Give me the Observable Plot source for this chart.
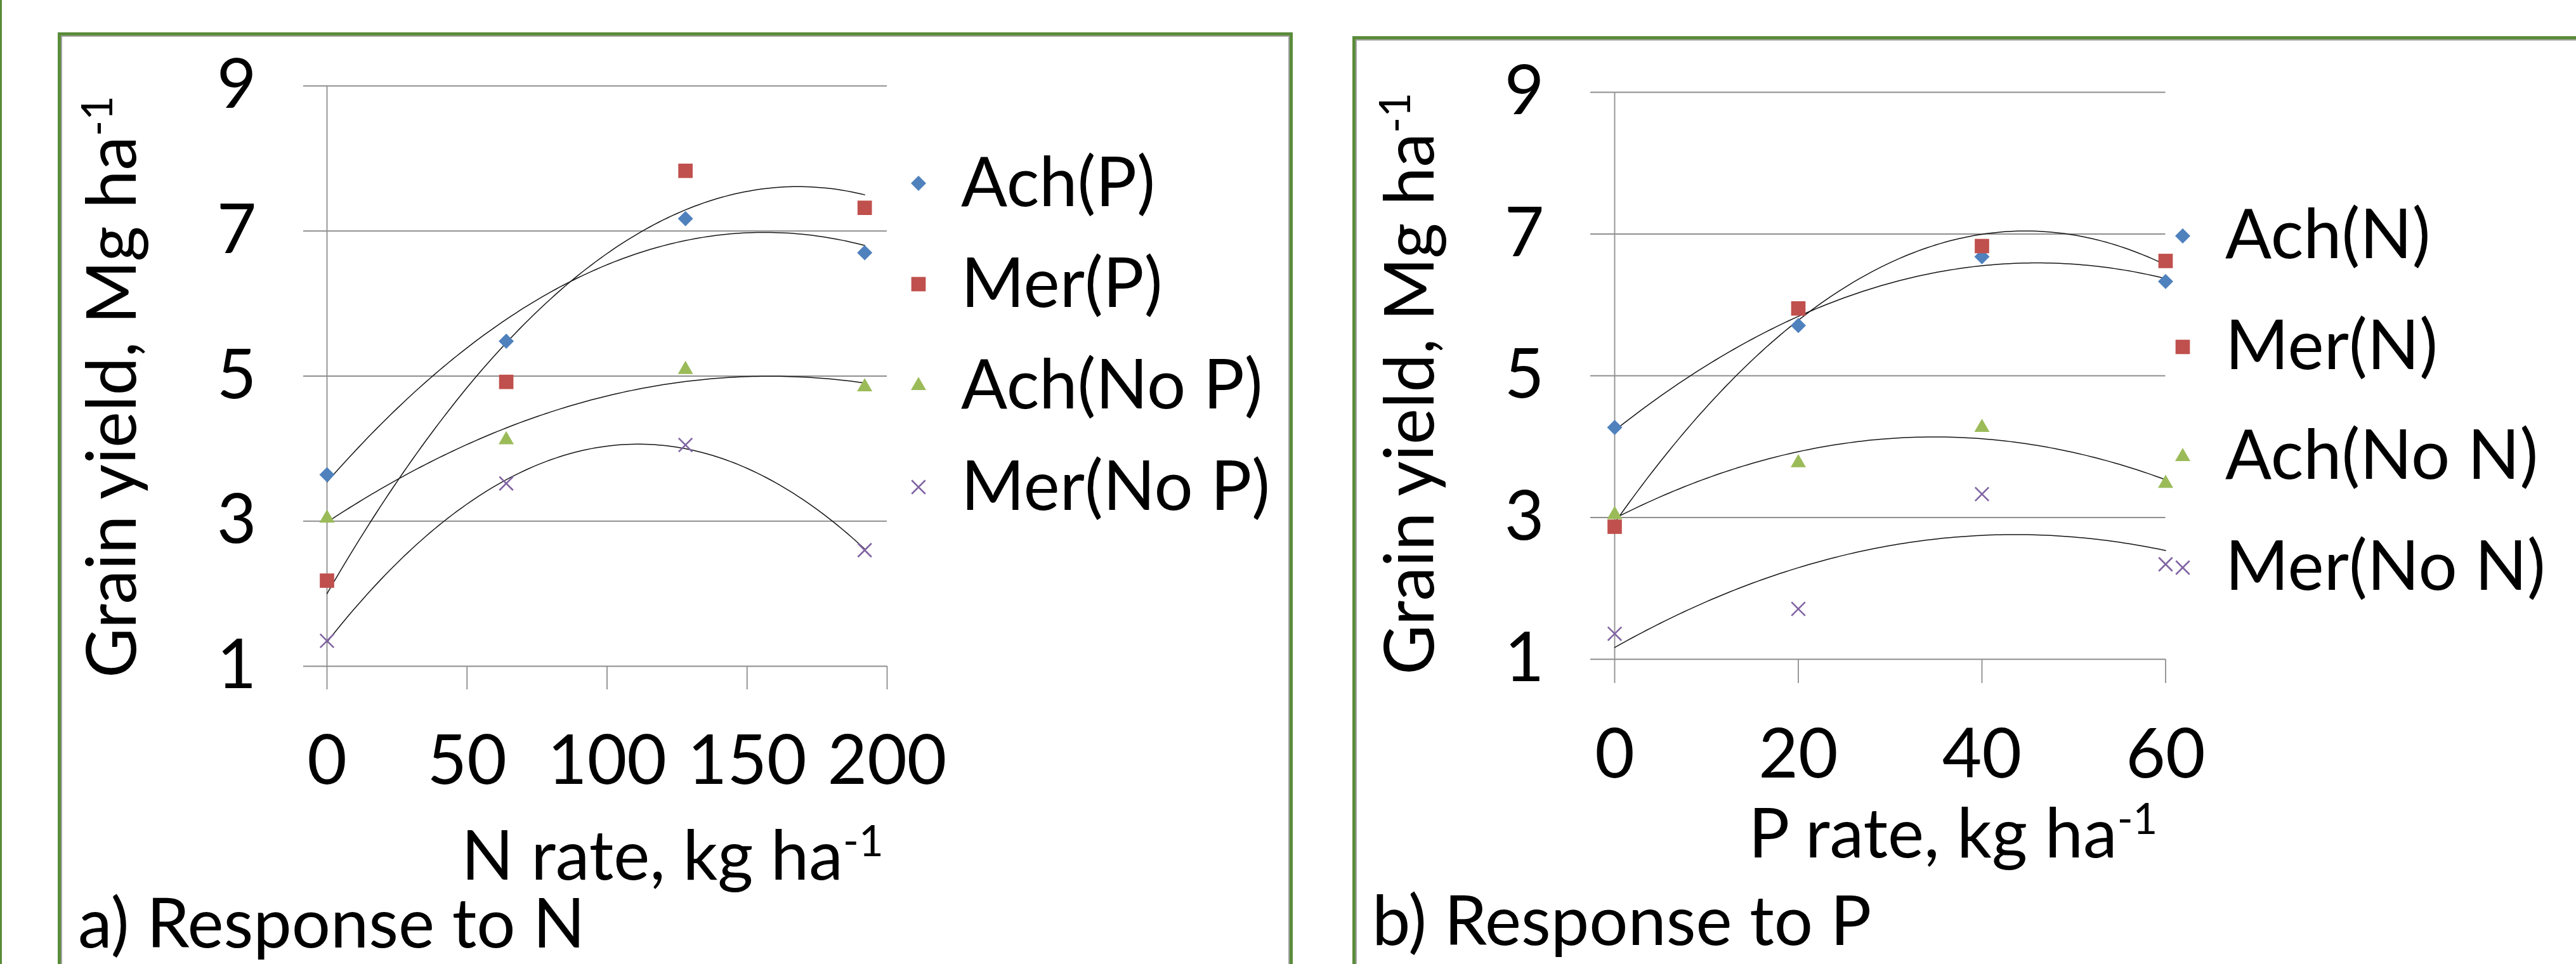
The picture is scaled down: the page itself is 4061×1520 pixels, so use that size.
<!DOCTYPE html>
<html>
<head>
<meta charset="utf-8">
<script src="https://cdn.jsdelivr.net/npm/d3@7"></script>
<script src="https://cdn.jsdelivr.net/npm/@observablehq/plot@0.6"></script>
<style>
html, body { margin:0; padding:0; background:#fff; }
#page { position:relative; width:4061px; height:1520px; overflow:hidden; background:#fff; }
.frame { position:absolute; box-sizing:border-box; border:5px solid #5B8C3A; box-shadow: inset 0 0 0 2px #a5a5a5; }
.chart { position:absolute; }
.chart svg { display:block; max-width:none; }
#edge { position:absolute; left:0; top:0; width:3px; height:1520px; background:#5B8C3A; }
#overlay { position:absolute; left:0; top:0; }
</style>
</head>
<body>
<div id="page">
  <div id="edge"></div>
  <div class="frame" style="left:91px;top:51px;width:1947px;height:1600px"></div>
  <div class="frame" style="left:2132px;top:57px;width:2100px;height:1600px"></div>
  <div class="chart" id="chartN" style="left:250px;top:40px"></div>
  <div class="chart" id="chartP" style="left:2280px;top:40px"></div>
</div>
<script>
// ---------- data ----------
const nRates = [0, 64, 128, 192];
const achP   = [3.64, 5.48, 7.17, 6.70];
const merP   = [2.18, 4.92, 7.83, 7.32];
const achNoP = [3.04, 4.12, 5.09, 4.85];
const merNoP = [1.35, 3.52, 4.05, 2.60];

const pRates = [0, 20, 40, 60];
const achN   = [4.27, 5.71, 6.68, 6.33];
const merN   = [2.87, 5.95, 6.83, 6.62];
const achNoN = [3.04, 3.77, 4.27, 3.48];
const merNoN = [1.36, 1.71, 3.33, 2.34];

const seriesN = ["Ach(P)", "Mer(P)", "Ach(No P)", "Mer(No P)"];
const seriesP = ["Ach(N)", "Mer(N)", "Ach(No N)", "Mer(No N)"];
const colors  = ["#4F81BD", "#C0504D", "#9BBB59", "#8064A2"];
const symbols = ["diamond2", "square", "triangle", "times"];
const radii   = [10.8, 12.8, 8.9, 9.8];

const yTicks = [1, 3, 5, 7, 9];
const nTicks = [0, 50, 100, 150, 200];
const pTicks = [0, 20, 40, 60];

const yLabel = "Grain yield, Mg ha";
const nLabel = "N rate, kg ha";
const pLabel = "P rate, kg ha";
const unitSup = "-1";
const captionN = "a) Response to N";
const captionP = "b) Response to P";

// ---------- helpers ----------
const FONT = "Lato, 'Open Sans', sans-serif";
const FS = 108;
const GRID = "#8E8E8E";

// least-squares second-order polynomial trendline (as in the original chart)
function quadFit(xs, ys) {
  const S = [[0,0,0],[0,0,0],[0,0,0]], T = [0,0,0];
  xs.forEach((x, i) => {
    const p = [1, x, x * x];
    for (let r = 0; r < 3; r++) {
      T[r] += p[r] * ys[i];
      for (let c = 0; c < 3; c++) S[r][c] += p[r] * p[c];
    }
  });
  const M = S.map((row, r) => [...row, T[r]]);
  for (let i = 0; i < 3; i++) {
    let piv = i;
    for (let k = i + 1; k < 3; k++) if (Math.abs(M[k][i]) > Math.abs(M[piv][i])) piv = k;
    [M[i], M[piv]] = [M[piv], M[i]];
    for (let k = i + 1; k < 3; k++) {
      const f = M[k][i] / M[i][i];
      for (let j = i; j < 4; j++) M[k][j] -= f * M[i][j];
    }
  }
  const sol = [0,0,0];
  for (let i = 2; i >= 0; i--) {
    let s = M[i][3];
    for (let j = i + 1; j < 3; j++) s -= M[i][j] * sol[j];
    sol[i] = s / M[i][i];
  }
  return x => sol[0] + sol[1] * x + sol[2] * x * x;
}

function makePanel({rates, values, names, xTicks, xDomain, width, height, mL, mR, mT, mB, tick, padY, padX}) {
  const x0 = d3.min(rates), x1 = d3.max(rates);
  const steps = d3.range(0, 121).map(i => x0 + (x1 - x0) * i / 120);
  const trend = names.flatMap((s, k) => {
    const f = quadFit(rates, values[k]);
    return steps.map(x => ({s, x, y: f(x)}));
  });
  const dotMarks = names.map((s, k) => {
    const data = rates.map((x, i) => ({s, x, y: values[k][i]}));
    const stroked = symbols[k] === "times";
    return Plot.dot(data, {
      x: "x", y: "y", symbol: symbols[k], r: radii[k],
      fill: stroked ? "none" : colors[k],
      stroke: stroked ? colors[k] : "none",
      strokeWidth: stroked ? 2.6 : 0
    });
  });
  const fmt = d => String(d);
  return Plot.plot({
    width, height,
    marginLeft: mL, marginRight: mR, marginTop: mT, marginBottom: mB,
    x: {domain: xDomain},
    y: {domain: [1, 9]},
    style: {fontFamily: FONT, fontSize: FS + "px", color: "#000", background: "transparent", overflow: "visible", maxWidth: "none"},
    marks: [
      Plot.gridY(yTicks, {stroke: GRID, strokeOpacity: 1, strokeWidth: 1.8}),
      Plot.ruleX([0], {stroke: GRID, strokeWidth: 1.8}),
      Plot.axisY(yTicks, {tickSize: tick, tickPadding: padY, tickFormat: fmt, stroke: GRID, strokeWidth: 1.8, fill: "#000", label: null}),
      Plot.axisX(xTicks, {tickSize: tick, tickPadding: padX, tickFormat: fmt, stroke: GRID, strokeWidth: 1.8, fill: "#000", label: null}),
      Plot.line(trend, {x: "x", y: "y", z: "s", stroke: "#151515", strokeWidth: 1.5}),
      ...dotMarks
    ]
  });
}

// ---------- charts ----------
document.getElementById("chartN").appendChild(makePanel({
  rates: nRates, values: [achP, merP, achNoP, merNoP], names: seriesN,
  xTicks: nTicks, xDomain: [0, 200],
  width: 1300, height: 1150, mL: 265, mR: 152, mT: 95, mB: 140,
  tick: 37, padY: 74, padX: 72
}));
document.getElementById("chartP").appendChild(makePanel({
  rates: pRates, values: [achN, merN, achNoN, merNoN], names: seriesP,
  xTicks: pTicks, xDomain: [0, 60],
  width: 1300, height: 1150, mL: 265, mR: 166.5, mT: 105, mB: 151,
  tick: 38, padY: 73, padX: 72
}));

// ---------- titles, captions, legends ----------
const ov = d3.select("#page").append("svg")
  .attr("id", "overlay").attr("width", 4061).attr("height", 1520)
  .style("font-family", FONT).style("font-size", FS + "px").attr("fill", "#000");

function titleText(g, main) {
  g.append("tspan").text(main);
  g.append("tspan").attr("font-size", "0.62em").attr("dy", "-0.55em").text(unitSup);
}

// panel a
titleText(ov.append("text").attr("transform", "translate(214,610) rotate(-90)").attr("text-anchor", "middle"), yLabel);
titleText(ov.append("text").attr("x", 1060).attr("y", 1387).attr("text-anchor", "middle"), nLabel);
ov.append("text").attr("x", 123).attr("y", 1494).text(captionN);

// panel b
titleText(ov.append("text").attr("transform", "translate(2260,605) rotate(-90)").attr("text-anchor", "middle"), yLabel);
titleText(ov.append("text").attr("x", 3079).attr("y", 1352).attr("text-anchor", "middle"), pLabel);
ov.append("text").attr("x", 2163).attr("y", 1490).text(captionP);

const symMap = {diamond2: d3.symbolDiamond2, square: d3.symbolSquare, triangle: d3.symbolTriangle, times: d3.symbolTimes};
function legend(names, mx, tx, rows, off) {
  names.forEach((s, k) => {
    const stroked = symbols[k] === "times";
    ov.append("path")
      .attr("transform", `translate(${mx},${rows[k]})`)
      .attr("d", d3.symbol(symMap[symbols[k]], Math.PI * radii[k] * radii[k])())
      .attr("fill", stroked ? "none" : colors[k])
      .attr("stroke", stroked ? colors[k] : "none")
      .attr("stroke-width", stroked ? 2.6 : 0);
    ov.append("text").attr("x", tx).attr("y", rows[k] + off).text(s);
  });
}
legend(seriesN, 1448, 1515, [289, 448, 608, 768], 36);
legend(seriesP, 3441, 3508, [372, 547, 720, 895], 35);
</script>
</body>
</html>
